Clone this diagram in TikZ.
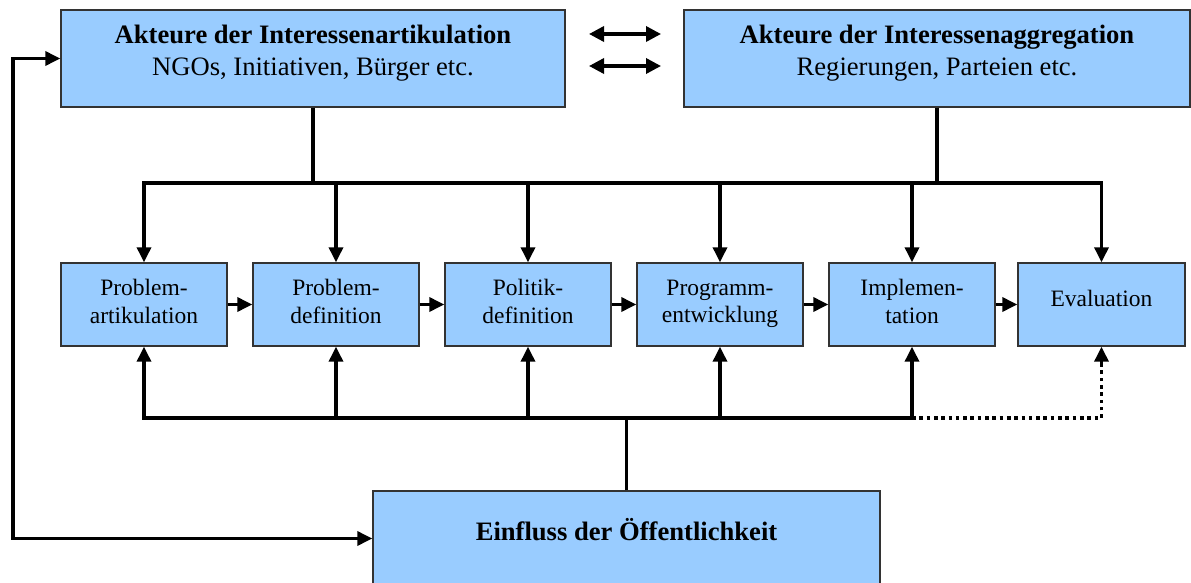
\documentclass[tikz,border=0pt]{standalone}
\usepackage{fontspec}
\setmainfont{Liberation Serif}
\usetikzlibrary{arrows.meta}
\definecolor{boxblue}{HTML}{99CCFF}
\definecolor{boxline}{HTML}{333333}
\begin{document}
\begin{tikzpicture}[x=1pt,y=-1pt,
  box/.style={draw=boxline,line width=1.4pt,fill=boxblue,inner sep=0pt},
  bigbox/.style={box,minimum width=504pt,minimum height=97pt},
  stepbox/.style={box,minimum width=166pt,minimum height=83pt,align=center,
    text depth=6.5pt,font=\fontsize{23.5}{27.5}\selectfont},
  bigtext/.style={align=center,inner sep=0pt,font=\fontsize{26.6}{32}\selectfont},
  conn/.style={line width=3.4pt},
  arr/.style={conn,-{Triangle[length=15pt,width=14pt]}},
  darr/.style={conn,{Triangle[length=15pt,width=15pt]}-{Triangle[length=15pt,width=15pt]}},
  dots/.style={line width=3.4pt,dash pattern=on 3.6pt off 3.7pt}]
\useasboundingbox (0,0) rectangle (1191,583);

% actors
\node[bigbox] (art) at (313,58.5) {};
\node[bigtext] (artT) at (313,53) {\textbf{Akteure der Interessenartikulation}\\NGOs, Initiativen, Bürger etc.};
\node[bigbox,minimum width=506pt] (agg) at (937,58.5) {};
\node[bigtext] (aggT) at (937,53) {\textbf{Akteure der Interessenaggregation}\\Regierungen, Parteien etc.};

% public
\node[box,minimum width=507pt,minimum height=95pt] (pub) at (626.5,538.5) {};
\node[bigtext] (pubT) at (626.5,530) {\textbf{Einfluss der Öffentlichkeit}};

% policy cycle steps
\node[stepbox] (p1) at (144,304.5) {Problem-\\artikulation};
\node[stepbox] (p2) at (336,304.5) {Problem-\\definition};
\node[stepbox] (p3) at (528,304.5) {Politik-\\definition};
\node[stepbox] (p4) at (720,304.5) {Programm-\\entwicklung};
\node[stepbox] (p5) at (912,304.5) {Implemen-\\tation};
\node[stepbox,minimum width=167pt,text depth=13pt] (p6) at (1101.5,304.5) {Evaluation};

% exchange between the actor groups
\coordinate (xa1) at (589,34);  \coordinate (xb1) at (661,34);
\coordinate (xa2) at (589,66);  \coordinate (xb2) at (661,66);
\draw[darr] (xa1) -- (xb1);
\draw[darr] (xa2) -- (xb2);

% step sequence
\foreach \a/\b in {p1/p2,p2/p3,p3/p4,p4/p5,p5/p6}
  \draw[arr] (\a.east) -- (\b.west);

% upper bus
\coordinate (topbus) at (0,183);
\draw[conn] (art.south) -- (art.south |- topbus);
\draw[conn] (agg.south) -- (agg.south |- topbus);
\draw[conn,line cap=rect] (p1.north |- topbus) -- (p6.north |- topbus);
\foreach \p in {p1,p2,p3,p4,p5,p6}
  \draw[arr] (\p.north |- topbus) -- (\p.north);

% lower bus
\coordinate (lowbus) at (0,418);
\draw[conn] (pub.north) -- (pub.north |- lowbus);
\draw[conn,line cap=rect] (p1.south |- lowbus) -- (p5.south |- lowbus);
\foreach \p in {p1,p2,p3,p4,p5}
  \draw[arr] (\p.south |- lowbus) -- (\p.south);
\draw[dots] (p5.south |- lowbus) -- (p6.south |- lowbus) -- ([yshift=-15pt]p6.south);
\draw[arr,shorten <=55pt] (p6.south |- lowbus) -- (p6.south);

% feedback loop on the left
\coordinate (loop) at (13,0);
\draw[conn,{Triangle[length=15pt,width=14pt]}-{Triangle[length=15pt,width=14pt]}]
  (art.west) -- (art.west -| loop) -- (pub.west -| loop) -- (pub.west);
\end{tikzpicture}
\end{document}
